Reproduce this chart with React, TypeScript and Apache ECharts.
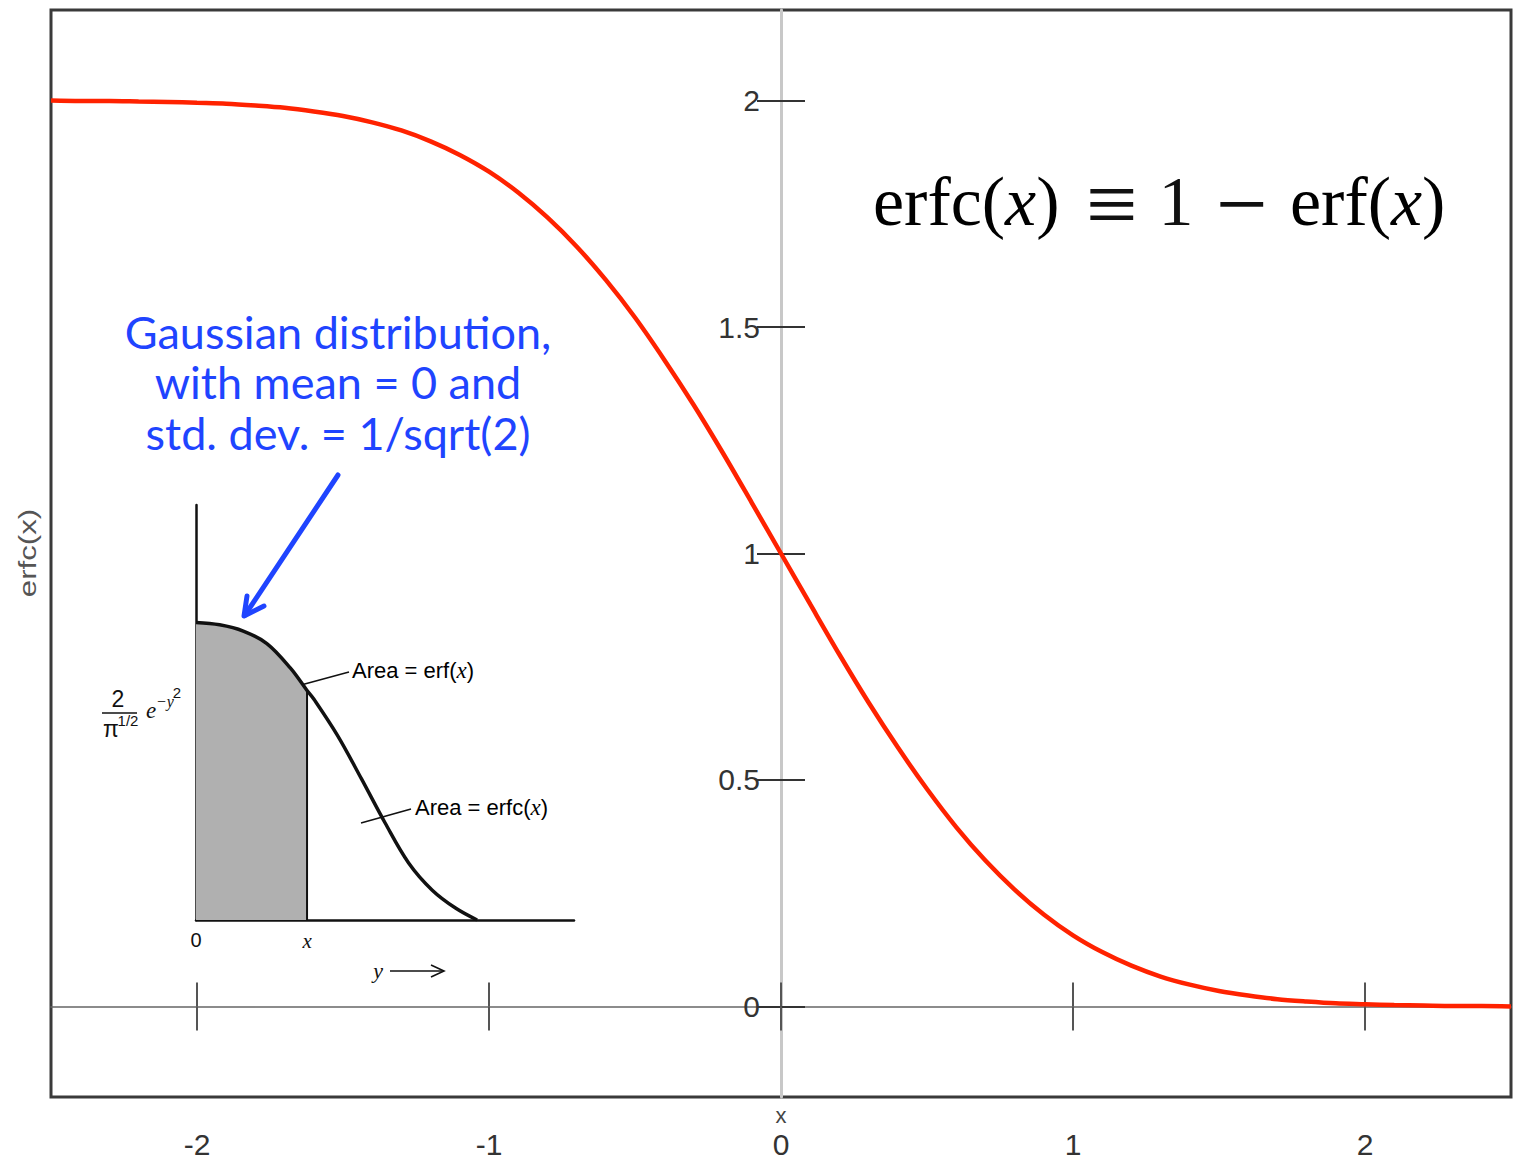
import React, { useEffect, useRef } from "react";
import * as echarts from "echarts";

// Main curve: erfc(x)
const curveX = [
  -2.5, -2.4, -2.3, -2.2, -2.1, -2.0, -1.9, -1.8, -1.7, -1.6, -1.5, -1.4, -1.3, -1.2, -1.1, -1.0,
  -0.9, -0.8, -0.7, -0.6, -0.5, -0.4, -0.3, -0.2, -0.1, 0.0, 0.1, 0.2, 0.3, 0.4, 0.5, 0.6, 0.7,
  0.8, 0.9, 1.0, 1.1, 1.2, 1.3, 1.4, 1.5, 1.6, 1.7, 1.8, 1.9, 2.0, 2.1, 2.2, 2.3, 2.4, 2.5,
];
const curveY = [
  2.0, 1.999, 1.999, 1.998, 1.997, 1.995, 1.993, 1.989, 1.984, 1.976, 1.966, 1.952, 1.934, 1.910,
  1.880, 1.843, 1.797, 1.742, 1.678, 1.604, 1.521, 1.428, 1.329, 1.223, 1.112, 1.0, 0.888, 0.777,
  0.671, 0.572, 0.480, 0.396, 0.322, 0.258, 0.203, 0.157, 0.120, 0.090, 0.066, 0.048, 0.034,
  0.024, 0.016, 0.011, 0.007, 0.005, 0.003, 0.002, 0.001, 0.001, 0.0,
];
const xTickValues = [-2, -1, 0, 1, 2];
const yTickValues = [0, 0.5, 1, 1.5, 2];

// Inset sketch: Gaussian density curve (sketch units)
const insetX = [0, 0.2, 0.4, 0.6, 0.8, 0.94, 1.0, 1.2, 1.4, 1.6, 1.8, 2.0, 2.2, 2.38];
const insetY = [1.147, 1.138, 1.114, 1.066, 0.971, 0.885, 0.85, 0.71, 0.545, 0.375, 0.22, 0.115, 0.045, 0.0];
const insetShadeEnd = 0.94;
const insetLabelValues = [0, 0.94];

const BLUE = "#1f44ff";
const SANS = "'Liberation Sans', Arial, Helvetica, sans-serif";
const SERIF = "'Liberation Serif', 'Times New Roman', serif";

export default function App() {
  const ref = useRef<HTMLDivElement>(null);

  useEffect(() => {
    if (!ref.current) return;
    const chart = echarts.init(ref.current, undefined, { renderer: "svg" });

    const mainData = curveX.map((x, i) => [x, curveY[i]]);
    const insetData = insetX.map((x, i) => [x, insetY[i]]);
    const shadeData = insetData.filter((p) => p[0] <= insetShadeEnd);
    const shadeTop = insetY[insetX.indexOf(insetShadeEnd)];

    const titleFont = { fontFamily: SERIF, fontSize: 70, fill: "#111" };
    const noBounds = { outerBoundsMode: "none", containLabel: false };

    chart.setOption({
      animation: false,
      backgroundColor: "#fff",
      grid: [
        {
          ...noBounds,
          left: 51,
          top: 10,
          right: 7,
          bottom: 70,
          show: true,
          borderColor: "#3a3a3a",
          borderWidth: 3,
          backgroundColor: "transparent",
        },
        { ...noBounds, left: 196, top: 505, width: 378, height: 415 },
        // grid whose left edge sits at x = 0 of the main grid, carrying the y axis
        { ...noBounds, left: 781, top: 10, right: 7, bottom: 70 },
      ],
      xAxis: [
        {
          gridIndex: 0,
          type: "value",
          min: -2.5,
          max: 2.5,
          position: "bottom",
          axisLine: { show: false, onZero: false },
          axisTick: { show: false },
          splitLine: { show: false },
          axisLabel: {
            customValues: xTickValues,
            fontSize: 30,
            fontFamily: SANS,
            color: "#333",
            margin: 32,
          },
          name: "x",
          nameLocation: "middle",
          nameGap: 7,
          nameMoveOverlap: false,
          nameTextStyle: { fontSize: 22, fontFamily: SANS, color: "#444", verticalAlign: "top" },
        },
        {
          gridIndex: 0,
          type: "value",
          min: -2.5,
          max: 2.5,
          axisLine: { show: true, onZero: true, onZeroAxisIndex: 0, lineStyle: { color: "#666", width: 1.6 } },
          axisTick: { show: true, customValues: xTickValues, length: 24, lineStyle: { color: "#555", width: 2 } },
          axisLabel: { show: false },
          splitLine: { show: false },
        },
        {
          gridIndex: 0,
          type: "value",
          min: -2.5,
          max: 2.5,
          axisLine: { show: false, onZero: true, onZeroAxisIndex: 0 },
          axisTick: { show: true, inside: true, customValues: xTickValues, length: 24, lineStyle: { color: "#555", width: 2 } },
          axisLabel: { show: false },
          splitLine: { show: false },
        },
        {
          gridIndex: 1,
          type: "value",
          min: 0,
          max: 3.2,
          axisLine: { show: true, onZero: false, lineStyle: { color: "#111", width: 2.5 } },
          axisTick: { show: false },
          splitLine: { show: false },
          axisLabel: {
            customValues: insetLabelValues,
            margin: 10,
            fontSize: 20,
            fontFamily: SANS,
            color: "#111",
            formatter: (v: number) => (v === 0 ? "0" : "{i|x}"),
            rich: { i: { fontFamily: SERIF, fontStyle: "italic", fontSize: 21, color: "#111" } },
          },
        },
        {
          gridIndex: 2,
          type: "value",
          min: 0,
          max: 2.5,
          show: false,
        },
      ],
      yAxis: [
        {
          gridIndex: 0,
          type: "value",
          min: -0.2,
          max: 2.2,
          axisLine: { show: false, onZero: false },
          axisTick: { show: false },
          axisLabel: { show: false },
          splitLine: { show: false },
        },
        {
          gridIndex: 1,
          type: "value",
          min: 0,
          max: 1.6,
          axisLine: { show: true, onZero: false, lineStyle: { color: "#111", width: 2.5 } },
          axisTick: { show: false },
          axisLabel: { show: false },
          splitLine: { show: false },
        },
        {
          gridIndex: 2,
          type: "value",
          min: -0.2,
          max: 2.2,
          position: "left",
          axisLine: { show: true, onZero: false, lineStyle: { color: "#c8c8c8", width: 3 } },
          axisTick: { show: true, customValues: yTickValues, length: 24, lineStyle: { color: "#333", width: 2 } },
          axisLabel: {
            customValues: yTickValues,
            fontSize: 30,
            fontFamily: SANS,
            color: "#333",
            margin: 21,
          },
          splitLine: { show: false },
        },
        {
          gridIndex: 2,
          type: "value",
          min: -0.2,
          max: 2.2,
          position: "left",
          axisLine: { show: false, onZero: false },
          axisTick: { show: true, inside: true, customValues: yTickValues, length: 24, lineStyle: { color: "#333", width: 2 } },
          axisLabel: { show: false },
          splitLine: { show: false },
        },
      ],
      series: [
        {
          type: "line",
          xAxisIndex: 0,
          yAxisIndex: 0,
          data: mainData,
          smooth: 0.3,
          showSymbol: false,
          lineStyle: { color: "#ff2200", width: 4.5 },
          z: 5,
        },
        {
          type: "line",
          xAxisIndex: 3,
          yAxisIndex: 1,
          data: shadeData,
          smooth: 0.35,
          showSymbol: false,
          lineStyle: { width: 0 },
          areaStyle: { color: "#b0b0b0", opacity: 1 },
          z: 2,
        },
        {
          type: "line",
          xAxisIndex: 3,
          yAxisIndex: 1,
          data: [
            [insetShadeEnd, 0],
            [insetShadeEnd, shadeTop],
          ],
          showSymbol: false,
          lineStyle: { color: "#111", width: 2 },
          z: 3,
        },
        {
          type: "line",
          xAxisIndex: 3,
          yAxisIndex: 1,
          data: insetData,
          smooth: 0.35,
          showSymbol: false,
          lineStyle: { color: "#111", width: 3.5 },
          z: 4,
        },
      ],
      graphic: [
        // Title formula
        {
          type: "text",
          left: 873,
          top: 201 - 35,
          style: {
            text: "{a|erfc(}{b|x}{a|)}",
            rich: {
              a: { fontFamily: SERIF, fontSize: 70, color: "#111" },
              b: { fontFamily: SERIF, fontSize: 70, fontStyle: "italic", color: "#111" },
            },
          },
        },
        { type: "text", x: 1112, y: 204, style: { ...titleFont, fontSize: 92, text: "≡", textAlign: "center", textVerticalAlign: "middle" } },
        { type: "text", x: 1176, y: 201, style: { ...titleFont, text: "1", textAlign: "center", textVerticalAlign: "middle" } },
        { type: "text", x: 1242, y: 204, style: { ...titleFont, fontSize: 92, text: "−", textAlign: "center", textVerticalAlign: "middle" } },
        {
          type: "text",
          left: 1290,
          top: 201 - 35,
          style: {
            text: "{a|erf(}{b|x}{a|)}",
            rich: {
              a: { fontFamily: SERIF, fontSize: 70, color: "#111" },
              b: { fontFamily: SERIF, fontSize: 70, fontStyle: "italic", color: "#111" },
            },
          },
        },
        // Y-axis name
        {
          type: "text",
          x: 28,
          y: 553,
          rotation: Math.PI / 2,
          scaleX: 1.3,
          style: {
            text: "erfc(x)",
            fontFamily: SANS,
            fontSize: 24,
            fill: "#555",
            textAlign: "center",
            textVerticalAlign: "middle",
          },
        },
        // Blue annotation
        {
          type: "text",
          x: 338,
          y: 382,
          style: {
            text: "Gaussian distribution,\nwith mean = 0 and\nstd. dev. = 1/sqrt(2)",
            fontFamily: "Lato, 'Open Sans', sans-serif",
            fontSize: 45,
            lineHeight: 50.5,
            fill: BLUE,
            textAlign: "center",
            textVerticalAlign: "middle",
          },
        },
        {
          type: "line",
          shape: { x1: 338, y1: 475, x2: 245, y2: 615 },
          style: { stroke: BLUE, lineWidth: 5, lineCap: "round" },
        },
        {
          type: "polyline",
          shape: { points: [[247, 596], [244, 616], [264, 606]] },
          style: { stroke: BLUE, lineWidth: 5, lineCap: "round", lineJoin: "round", fill: "none" },
        },
        // Inset leader lines and labels
        {
          type: "line",
          shape: { x1: 301, y1: 685, x2: 349, y2: 672 },
          style: { stroke: "#111", lineWidth: 1.6 },
        },
        {
          type: "text",
          left: 352,
          top: 659,
          style: {
            text: "{a|Area = erf(}{b|x}{a|)}",
            rich: {
              a: { fontFamily: SANS, fontSize: 22, color: "#111" },
              b: { fontFamily: SERIF, fontSize: 23, fontStyle: "italic", color: "#111" },
            },
          },
        },
        {
          type: "line",
          shape: { x1: 361, y1: 823, x2: 411, y2: 809 },
          style: { stroke: "#111", lineWidth: 1.6 },
        },
        {
          type: "text",
          left: 415,
          top: 796,
          style: {
            text: "{a|Area = erfc(}{b|x}{a|)}",
            rich: {
              a: { fontFamily: SANS, fontSize: 22, color: "#111" },
              b: { fontFamily: SERIF, fontSize: 23, fontStyle: "italic", color: "#111" },
            },
          },
        },
        // Inset y-label: 2/pi^(1/2) e^(-y^2)
        { type: "text", x: 118, y: 699, style: { text: "2", fontFamily: SANS, fontSize: 23, fill: "#111", textAlign: "center", textVerticalAlign: "middle" } },
        { type: "line", shape: { x1: 102, y1: 713, x2: 137, y2: 713 }, style: { stroke: "#111", lineWidth: 1.6 } },
        { type: "text", x: 111, y: 729, style: { text: "π", fontFamily: SANS, fontSize: 23, fill: "#111", textAlign: "center", textVerticalAlign: "middle" } },
        { type: "text", x: 128, y: 720, style: { text: "1/2", fontFamily: SANS, fontSize: 15, fill: "#111", textAlign: "center", textVerticalAlign: "middle" } },
        { type: "text", x: 151, y: 710, style: { text: "e", fontFamily: SERIF, fontStyle: "italic", fontSize: 23, fill: "#111", textAlign: "center", textVerticalAlign: "middle" } },
        { type: "text", x: 165, y: 701, style: { text: "−y", fontFamily: SERIF, fontStyle: "italic", fontSize: 16, fill: "#111", textAlign: "center", textVerticalAlign: "middle" } },
        { type: "text", x: 177, y: 692, style: { text: "2", fontFamily: SANS, fontSize: 15, fill: "#111", textAlign: "center", textVerticalAlign: "middle" } },
        // y arrow under inset
        { type: "text", x: 378, y: 970, style: { text: "y", fontFamily: SERIF, fontStyle: "italic", fontSize: 22, fill: "#111", textAlign: "center", textVerticalAlign: "middle" } },
        { type: "line", shape: { x1: 390, y1: 971, x2: 443, y2: 971 }, style: { stroke: "#111", lineWidth: 1.6 } },
        {
          type: "polyline",
          shape: { points: [[431, 965], [444, 971], [431, 977]] },
          style: { stroke: "#111", lineWidth: 1.6, fill: "none" },
        },
      ],
    });

    return () => chart.dispose();
  }, []);

  return (
    <div
      ref={ref}
      style={{ position: "absolute", left: 0, top: 0, width: 1518, height: 1167, background: "#fff" }}
    />
  );
}
